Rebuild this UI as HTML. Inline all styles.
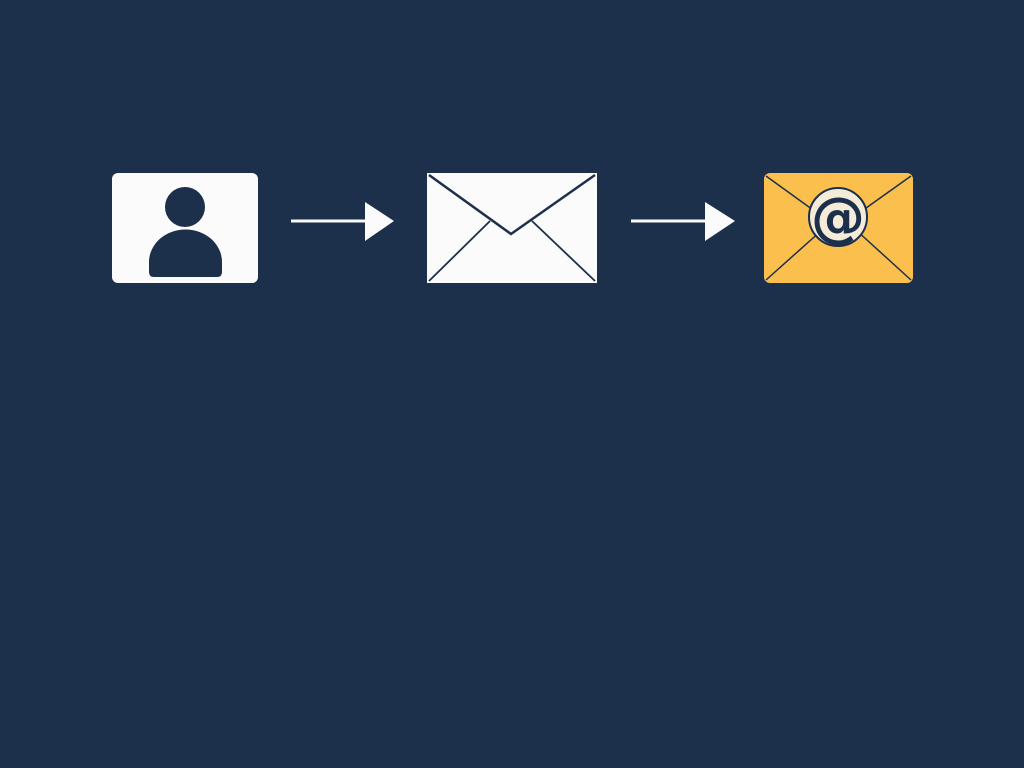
<!DOCTYPE html>
<html><head><style>
html,body{margin:0;padding:0;background:#1c2f4b;width:1024px;height:768px;overflow:hidden}
</style></head><body>
<svg width="1024" height="768" xmlns="http://www.w3.org/2000/svg">
<rect width="1024" height="768" fill="#1c2f4b"/>
<rect x="112" y="173" width="146" height="110" rx="6" fill="#fbfbfb"/>
<circle cx="185" cy="207" r="20" fill="#1c2f4b"/>
<path d="M149 276 V262 a36 32 0 0 1 73 0 V272 q0 5 -5 5 H154 q-5 0 -5 -5z" fill="#1c2f4b"/>
<line x1="291" y1="221" x2="368" y2="221" stroke="#fbfbfb" stroke-width="3"/>
<polygon points="365,202 394,221 365,241" fill="#fbfbfb"/>
<rect x="427" y="173" width="170" height="110" fill="#fbfbfb"/>
<polyline points="429,175 511,234 595,175" fill="none" stroke="#1c2f4b" stroke-width="2.5"/>
<line x1="429" y1="281" x2="490" y2="221" stroke="#1c2f4b" stroke-width="1.8"/>
<line x1="595" y1="281" x2="532" y2="221" stroke="#1c2f4b" stroke-width="1.8"/>
<line x1="631" y1="221" x2="708" y2="221" stroke="#fbfbfb" stroke-width="3"/>
<polygon points="705,202 735,221 705,241" fill="#fbfbfb"/>
<rect x="764" y="173" width="149" height="110" rx="6" fill="#fbbf4e"/>
<line x1="766" y1="176" x2="838" y2="228" stroke="#1c2f4b" stroke-width="1.5"/>
<line x1="911" y1="176" x2="838" y2="228" stroke="#1c2f4b" stroke-width="1.5"/>
<line x1="766" y1="280" x2="822" y2="230" stroke="#1c2f4b" stroke-width="1.5"/>
<line x1="911" y1="280" x2="856" y2="230" stroke="#1c2f4b" stroke-width="1.5"/>
<circle cx="838" cy="217" r="29" fill="#f4ecd9" stroke="#1c2f4b" stroke-width="2"/>
<text x="838" y="236" text-anchor="middle" font-family="DejaVu Sans, sans-serif" font-weight="bold" font-size="54" fill="#1c2f4b">@</text>
</svg>
</body></html>
